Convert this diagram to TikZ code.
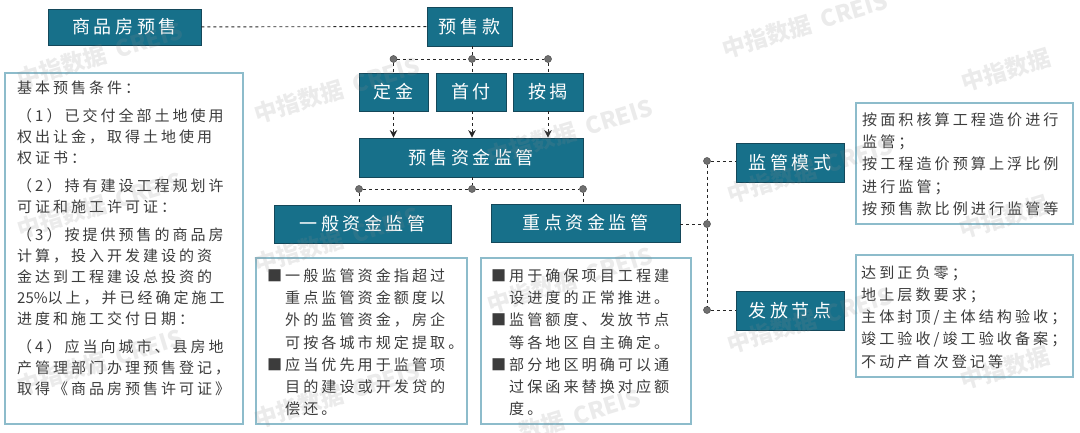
\documentclass[tikz,border=0pt]{standalone}
\usepackage{fontspec}
\setmainfont[LetterSpace=20]{Noto Sans CJK SC}
\newfontfamily\wmfont{Noto Sans CJK SC}
\usetikzlibrary{arrows.meta}
\definecolor{headteal}{HTML}{17708A}
\definecolor{headedge}{HTML}{14485A}
\definecolor{infoedge}{HTML}{8DBCCB}
\definecolor{infoink}{HTML}{3C3C3C}
\definecolor{dotgray}{HTML}{707070}
\definecolor{markgray}{HTML}{8A8A8A}
\tikzset{
  headbox/.style={draw=headedge,fill=headteal,line width=.8pt,text=white,inner sep=0pt,font=\fontsize{18}{22}\selectfont},
  infobox/.style={draw=infoedge,line width=1.1pt,inner sep=0pt},
  infotext/.style={anchor=north west,inner sep=0pt,align=left,text=infoink,font=\fontsize{15.1}{22.2}\selectfont},
  condtext/.style={infotext,font=\fontsize{15}{21}\selectfont},
  joint/.style={circle,draw=black!70,fill=dotgray,line width=.5pt,minimum size=7pt,inner sep=0pt},
  link/.style={draw=black!85,line width=.9pt,dash pattern=on 3pt off 3pt},
  linkarrow/.style={link,-{Stealth[length=7.5pt,width=7.5pt]}},
  wmark/.style={text=markgray,opacity=.17,rotate=17,inner sep=0pt,font=\wmfont\bfseries\fontsize{23}{25}\selectfont}
}
\newcommand{\bul}{\makebox[18pt][l]{■}}
\newcommand{\nobul}{\hspace*{18pt}}
\begin{document}
\begin{tikzpicture}[x=1pt,y=-1pt]
\useasboundingbox (0,0) rectangle (1080,433);
\node[headbox,minimum width=153pt,minimum height=36pt] (presale) at (124.5,27) {商品房预售};
\node[headbox,minimum width=85pt,minimum height=39pt] (payment) at (469.5,26.5) {预售款};
\node[headbox,minimum width=69pt,minimum height=38pt] (deposit) at (393.5,92) {定金};
\node[headbox,minimum width=70pt,minimum height=38pt] (downpay) at (471,92) {首付};
\node[headbox,minimum width=70pt,minimum height=38pt] (mortgage) at (548,92) {按揭};
\node[headbox,minimum width=224pt,minimum height=39pt] (fund) at (471,157.5) {预售资金监管};
\node[headbox,minimum width=177pt,minimum height=38pt] (general) at (362.5,224) {一般资金监管};
\node[headbox,minimum width=189pt,minimum height=38pt] (focus) at (585.5,223) {重点资金监管};
\node[headbox,minimum width=108pt,minimum height=39pt] (mode) at (790,162.5) {监管模式};
\node[headbox,minimum width=108pt,minimum height=39pt] (release) at (790,310.5) {发放节点};

\node[joint] (jtop) at (472,59) {};
\node[joint] (jtopl) at (393.5,59) {};
\node[joint] (jtopr) at (548,59) {};
\node[joint] (jmid) at (472,189) {};
\node[joint] (jmidl) at (359,189) {};
\node[joint] (jmidr) at (583,189) {};
\node[joint] (jright) at (707,224) {};
\node[joint] (jrightu) at (707,161) {};
\node[joint] (jrightd) at (707,310) {};

\draw[link] (presale) -- (payment);
\draw[link] (payment.south -| jtop) -- (jtop);
\draw[link] (jtopl) -- (jtop) -- (jtopr);
\draw[link] (jtopl) -- (deposit);
\draw[link] (jtop) -- (jtop |- downpay.north);
\draw[link] (jtopr) -- (mortgage);
\draw[linkarrow] (deposit) -- (deposit |- fund.north);
\draw[linkarrow] (downpay.south -| jtop) -- (jtop |- fund.north);
\draw[linkarrow] (mortgage) -- (mortgage |- fund.north);
\draw[link] (fund.south -| jmid) -- (jmid);
\draw[link] (jmidl) -- (jmid) -- (jmidr);
\draw[link] (jmidl) -- (jmidl |- general.north);
\draw[link] (jmidr) -- (jmidr |- focus.north);
\draw[link] (focus.east |- jright) -- (jright);
\draw[link] (jrightu) -- (jright) -- (jrightd);
\draw[link] (jrightu) -- (jrightu -| mode.west);
\draw[link] (jrightd) -- (jrightd -| release.west);

\node[infobox,minimum width=238pt,minimum height=351pt] (condbox) at (124,248.5) {};
\node[condtext] (condinfo) at (17,81) {基本预售条件：\\[7pt]
（1）已交付全部土地使用\\
权出让金，取得土地使用\\
权证书：\\[7pt]
（2）持有建设工程规划许\\
可证和施工许可证：\\[7pt]
（3）按提供预售的商品房\\
计算，投入开发建设的资\\
金达到工程建设总投资的\\
{\wmfont 25\%}以上，并已经确定施工\\
进度和施工交付日期：\\[7pt]
（4）应当向城市、县房地\\
产管理部门办理预售登记，\\
取得《商品房预售许可证》};
\node[infobox,minimum width=211pt,minimum height=166pt] (genbox) at (361.5,341) {};
\node[infotext] (gentext) at (267,268.5) {\bul 一般监管资金指超过\\
\nobul 重点监管资金额度以\\
\nobul 外的监管资金，房企\\
\nobul 可按各城市规定提取。\\
\bul 应当优先用于监管项\\
\nobul 目的建设或开发贷的\\
\nobul 偿还。};
\node[infobox,minimum width=210pt,minimum height=166pt] (focbox) at (586,341) {};
\node[infotext] (foctext) at (491,268.5) {\bul 用于确保项目工程建\\
\nobul 设进度的正常推进。\\
\bul 监管额度、发放节点\\
\nobul 等各地区自主确定。\\
\bul 部分地区明确可以通\\
\nobul 过保函来替换对应额\\
\nobul 度。};
\node[infobox,minimum width=217pt,minimum height=121pt] (modebox) at (964.5,163.5) {};
\node[infotext] (modetext) at (862,112.5) {按面积核算工程造价进行\\
监管；\\
按工程造价预算上浮比例\\
进行监管；\\
按预售款比例进行监管等};
\node[infobox,minimum width=217pt,minimum height=122pt] (relbox) at (964.5,316) {};
\node[infotext] (reltext) at (861,265.5) {达到正负零；\\
地上层数要求；\\
主体封顶/主体结构验收；\\
竣工验收/竣工验收备案；\\
不动产首次登记等};

\foreach \wmx/\wmy/\wmt [count=\wmn] in {
  100/55/{中指数据\ \ CREIS},337/90/{中指数据\ \ CREIS},805/25/{中指数据\ \ CREIS},
  1006/70/{中指数据},570/132/{中指数据\ \ CREIS},810/170/{中指数据\ \ CREIS},
  1004/217/{中指数据},100/205/{中指数据\ \ CREIS},337/240/{中指数据\ \ CREIS},
  570/280/{中指数据\ \ CREIS},810/320/{中指数据\ \ CREIS},1005/368/{中指数据},
  100/362/{中指数据\ \ CREIS},337/395/{中指数据\ \ CREIS},580/415/{数据\ \ CREIS}}
  \node[wmark] (wm\wmn) at (\wmx,\wmy) {\wmt};
\end{tikzpicture}
\end{document}
